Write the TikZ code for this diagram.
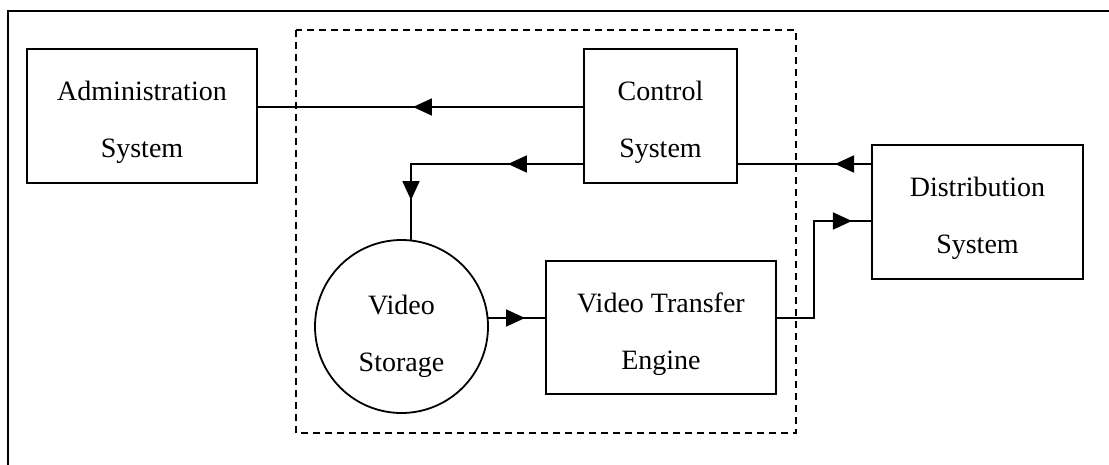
\documentclass[tikz,border=0pt]{standalone}
\usepackage{fontspec}
\setmainfont{Liberation Serif}
\usetikzlibrary{arrows.meta,decorations.markings,shapes}
\pgfdeclarelayer{edgelayer}
\pgfdeclarelayer{nodelayer}
\pgfsetlayers{edgelayer,nodelayer,main}
\tikzset{font=\fontsize{14}{28.5}\selectfont}
\newcommand{\lift}{\rule{0pt}{16.5pt}}
\newcommand{\liftc}{\rule{0pt}{20pt}}
\tikzstyle{none}=[inner sep=0pt]
\tikzstyle{block}=[rectangle,draw=black,line width=0.9pt,align=center,minimum height=67pt]
\tikzstyle{storage}=[circle,draw=black,line width=0.9pt,align=center,minimum size=86.5pt]
\tikzstyle{simple}=[-,draw=black,line width=0.9pt]
\tikzstyle{grouping}=[-,draw=black,line width=0.9pt,dash pattern=on 3.5pt off 2.5pt]
\tikzset{arrowat/.style={postaction={decorate,decoration={markings,mark=at position #1 with {\arrow{Triangle[length=9.5pt,width=8.5pt]}}}}}}

\begin{document}
\begin{tikzpicture}[x=0.5pt,y=-0.5pt]
	\useasboundingbox (0,0) rectangle (1109,465);
	\begin{pgfonlayer}{nodelayer}
		\node [style=block, minimum width=115pt] (Admin) at (142,116) {\lift Administration\\System};
		\node [style=block, minimum width=76.5pt] (Control) at (660.5,116) {\lift Control\\System};
		\node [style=block, minimum width=105.5pt] (Distrib) at (977.5,212) {\lift Distribution\\System};
		\node [style=block, minimum width=115pt, minimum height=66.5pt] (Engine) at (661,327.5) {\lift Video Transfer\\Engine};
		\node [style=storage] (Store) at (401.5,326.5) {\liftc Video\\Storage};
%		ports and bends
		\node [style=none] (CtlW1) at (584,107) {};
		\node [style=none] (AdmE) at (257,107) {};
		\node [style=none] (CtlW2) at (584,164) {};
		\node [style=none] (BendS) at (411,164) {};
		\node [style=none] (StoN) at (411,240.5) {};
		\node [style=none] (DisW1) at (872,164) {};
		\node [style=none] (CtlE) at (737,164) {};
		\node [style=none] (StoE) at (488,318) {};
		\node [style=none] (EngW) at (546,318) {};
		\node [style=none] (EngE) at (776,318) {};
		\node [style=none] (BendA) at (814,318) {};
		\node [style=none] (BendB) at (814,221) {};
		\node [style=none] (DisW2) at (872,221) {};
%		frame and dashed group
		\node [style=none] (FBL) at (8,465) {};
		\node [style=none] (FTL) at (8,11) {};
		\node [style=none] (FTR) at (1109,11) {};
		\node [style=none] (GTL) at (296,30) {};
		\node [style=none] (GBR) at (796,433) {};
	\end{pgfonlayer}
	\begin{pgfonlayer}{edgelayer}
		\draw [style=simple] (FBL.center) to (FTL.center) to (FTR.center);
		\draw [style=grouping] (GTL.center) rectangle (GBR.center);
		\draw [style=simple, arrowat=0.523] (CtlW1.center) to (AdmE.center);
		\draw [style=simple, arrowat=0.305, arrowat=0.838] (CtlW2.center) to (BendS.center) to (StoN.center);
		\draw [style=simple, arrowat=0.274] (DisW1.center) to (CtlE.center);
		\draw [style=simple, arrowat=0.638] (StoE.center) to (EngW.center);
		\draw [style=simple, arrowat=0.896] (EngE.center) to (BendA.center) to (BendB.center) to (DisW2.center);
	\end{pgfonlayer}
\end{tikzpicture}
\end{document}
